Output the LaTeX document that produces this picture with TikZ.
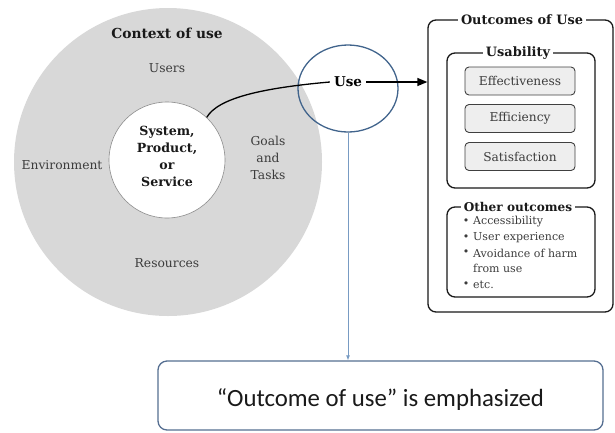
\documentclass[tikz,border=0pt]{standalone}
\usepackage{fontspec}
\setmainfont{DejaVu Serif}
\newfontfamily\calfont{Carlito}
\usetikzlibrary{shapes.geometric,arrows.meta}
\definecolor{ctxgray}{RGB}{216,216,216}
\definecolor{useblue}{RGB}{65,100,140}
\definecolor{linkblue}{RGB}{120,155,195}
\definecolor{boxblue}{RGB}{85,110,145}
\definecolor{itemfill}{RGB}{238,238,238}
\definecolor{txtgray}{RGB}{60,60,60}
\begin{document}
\begin{tikzpicture}[x=1pt,y=-1pt,
  lbl/.style={font=\rmfamily\fontsize{12.3}{17}\selectfont, text=txtgray, align=center, inner sep=0pt},
  bld/.style={font=\rmfamily\bfseries\fontsize{12.6}{17}\selectfont, text=black!90, align=center, inner sep=0pt},
  ttl/.style={font=\rmfamily\bfseries\fontsize{12.9}{14}\selectfont, text=black!90, fill=white, inner xsep=3pt, inner ysep=1pt},
  obox/.style={draw=black!90, line width=1.3pt, rounded corners=8pt, inner sep=0pt},
  ibox/.style={draw=black!75, line width=0.9pt, fill=itemfill, rounded corners=4pt, minimum width=110pt, minimum height=28pt, inner sep=0pt, font=\rmfamily\fontsize{12.2}{13}\selectfont, text=txtgray},
  blt/.style={font=\rmfamily\fontsize{11}{13}\selectfont, text=txtgray, inner sep=0pt},
]
\useasboundingbox (0,0) rectangle (615,432);
% context of use
\node[circle, fill=ctxgray, minimum size=308pt, inner sep=0pt] (ctx) at (168,162) {};
\node[circle, fill=white, draw=black!45, line width=0.6pt, minimum size=116pt, inner sep=0pt] (sys) at (167,160) {};
\node[bld] (systxt) at (167,156) {System,\\Product,\\or\\Service};
\node[bld, font=\rmfamily\bfseries\fontsize{13.8}{16}\selectfont] (ctxttl) at (167,33) {Context of use};
\node[lbl] (users) at (167,68) {Users};
\node[lbl] (env) at (62,165) {Environment};
\node[lbl] (goals) at (268,158) {Goals\\and\\Tasks};
\node[lbl] (res) at (167,263) {Resources};
% use
\node[ellipse, draw=useblue, line width=1.3pt, minimum width=100pt, minimum height=87pt, inner sep=0pt] (usecirc) at (348,88.5) {};
\node[font=\rmfamily\bfseries\fontsize{13.5}{15}\selectfont, inner xsep=4pt, inner ysep=1pt] (use) at (348,82) {Use};
% outcomes
\node[obox, minimum width=185pt, minimum height=292pt] (out) at (520.5,166) {};
\node[ttl] (outttl) at (522,20) {Outcomes of Use};
\node[obox, minimum width=148pt, minimum height=135pt] (usab) at (521,120.5) {};
\node[ttl] (usabttl) at (518,53) {Usability};
\node[ibox] (eff) at (520,81) {Effectiveness};
\node[ibox] (effi) at (520,118.5) {Efficiency};
\node[ibox] (sat) at (520,156.5) {Satisfaction};
\node[obox, minimum width=148pt, minimum height=90pt] (other) at (521,252) {};
\node[ttl, font=\rmfamily\bfseries\fontsize{12.1}{14}\selectfont] (otherttl) at (518,207) {Other outcomes};
\node[blt] (b1) at (466,222) {•};
\node[blt, anchor=west] (t1) at (473,222) {Accessibility};
\node[blt] (b2) at (466,237.5) {•};
\node[blt, anchor=west] (t2) at (473,237.5) {User experience};
\node[blt] (b3) at (466,253) {•};
\node[blt, anchor=west] (t3) at (473,253) {Avoidance of harm};
\node[blt, anchor=west] (t4) at (473,268.5) {from use};
\node[blt] (b5) at (466,285) {•};
\node[blt, anchor=west] (t5) at (473,285) {etc.};
% bottom
\node[draw=boxblue, line width=1.3pt, rounded corners=9pt, minimum width=445pt, minimum height=69pt, inner sep=0pt] (bot) at (380.5,395.5) {};
\node[font=\calfont\fontsize{24.8}{28}\selectfont, text=black!90, inner sep=0pt] (bottxt) at (380.5,400) {“Outcome of use” is emphasized};
% connectors
\draw[line width=1.3pt] (sys.47) .. controls (218,98) and (262,88) .. (use.west);
\draw[line width=1.3pt, -{Triangle[length=10pt,width=8pt]}] (use.east) -- (use.east -| out.west);
\draw[linkblue, line width=0.8pt, -{Latex[length=5pt,width=4pt]}] (usecirc.south) -- (usecirc.south |- bot.north);
\end{tikzpicture}
\end{document}
